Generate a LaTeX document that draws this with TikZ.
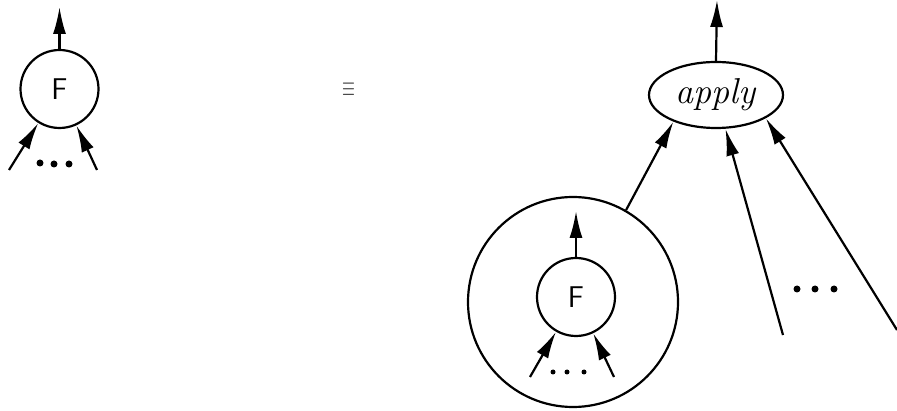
\documentclass[tikz,border=0pt]{standalone}
\usetikzlibrary{arrows.meta,shapes.geometric}
\begin{document}
\begin{tikzpicture}[x=1pt,y=-1pt,line width=2.2pt]
\tikzset{
  arr/.style={-{Latex[length=27pt,width=13pt]}},
  fnode/.style={circle,draw,minimum size=78pt,inner sep=0pt,font=\sffamily\fontsize{30}{32}\selectfont},
  dotmark/.style={fill,circle,inner sep=0pt,minimum size=7pt},
  smalldot/.style={fill,circle,inner sep=0pt,minimum size=5pt}}
\useasboundingbox (0,0) rectangle (897,411);
% left small F
\node[fnode] (F1) at (59.5,89) {F};
\coordinate (F1out) at (59.5,7);
\coordinate (F1a) at (9,170);
\coordinate (F1b) at (97,170);
\draw[arr] (F1.north) -- (F1out);
\draw[arr] (F1a) -- (F1);
\draw[arr] (F1b) -- (F1);
\node[dotmark] (d1) at (40,163) {};
\node[dotmark] (d2) at (54,164) {};
\node[dotmark] (d3) at (69,164) {};
% equivalence
\node[text=black!75] (eq) at (348.5,90) {\fontsize{22}{24}\selectfont\scalebox{0.8}[1.4]{$\equiv$}};
% apply
\node[ellipse,draw,minimum width=134pt,minimum height=66pt,inner sep=0pt,font=\fontsize{36}{38}\selectfont] (ap) at (716,95) {\textit{apply}};
\coordinate (apout) at (717,0);
\draw[arr] (ap.north) -- (apout);
% big circle with F inside
\node[circle,draw,minimum size=210pt,inner sep=0pt] (big) at (573,302) {};
\node[fnode] (F2) at (576,297) {F};
\coordinate (F2out) at (576,211);
\coordinate (F2a) at (530,377);
\coordinate (F2b) at (614,377);
\draw[arr] (F2.north) -- (F2out);
\draw[arr] (F2a) -- (F2);
\draw[arr] (F2b) -- (F2);
\node[smalldot] (e1) at (553,372) {};
\node[smalldot] (e2) at (567,372) {};
\node[smalldot] (e3) at (584,372) {};
% inputs to apply
\coordinate (m) at (783,335);
\coordinate (r) at (897,330);
\draw[arr] (big.60) -- (ap.212);
\draw[arr] (m) -- (ap);
\draw[arr] (r) -- (ap.-25);
\node[dotmark] (f1) at (797,289) {};
\node[dotmark] (f2) at (815,289) {};
\node[dotmark] (f3) at (834,289) {};
\end{tikzpicture}
\end{document}
